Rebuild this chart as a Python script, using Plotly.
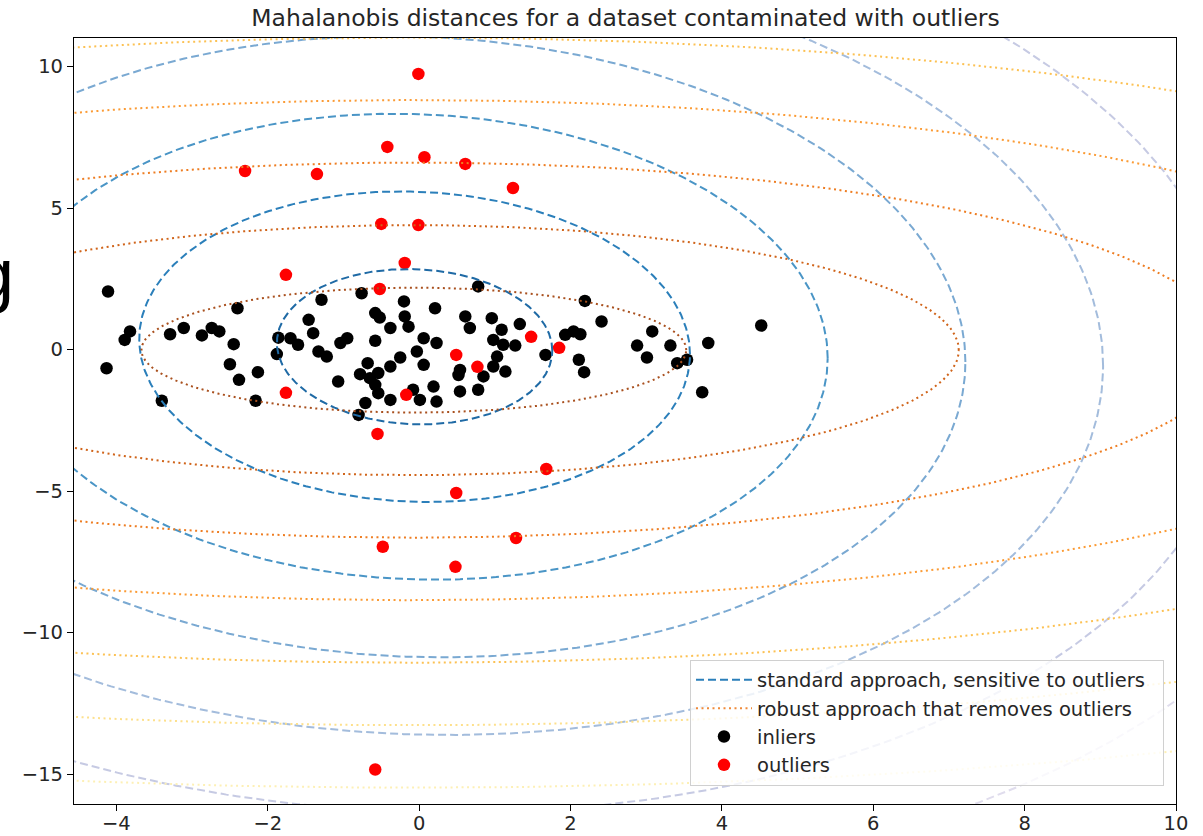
import numpy as np
import plotly.graph_objects as go

# ---- data ---------------------------------------------------------------
inlier_x = [-4.11, -3.82, -3.89, -4.13, -3.40, -3.29, -3.11, -2.87, -2.74, -2.64,
            -2.40, -2.45, -2.50, -2.38, -2.13, -2.16,
            -1.29, -1.46, -1.40, -1.86, -1.88, -1.70, -1.60, -1.33, -1.22, -1.04,
            -0.95, -1.07, -0.76, -0.58, -0.52, -0.58, -0.38, -0.20, -0.19, -0.14,
            0.06, -0.68, -0.78, -0.54, -0.38, -0.25, -0.58, -0.54, -0.38, -0.71,
            -0.80, -0.03, 0.06, -0.08, 0.01, -0.65,
            0.78, 2.19, 0.21, 0.61, 0.67, 0.96, 1.09, 1.33, 0.23, 0.98,
            1.11, 1.27, 1.03, 0.98, 1.14, 0.54, 0.52, 0.85, 0.19, 0.23,
            0.54, 0.78, 1.67, 1.93, 2.04, 2.13, 2.11, 2.18,
            2.41, 3.08, 2.88, 3.01, 3.32, 3.41, 3.54, 3.82, 3.74, 4.52]
inlier_y = [2.05, 0.64, 0.34, -0.66, -1.81, 0.54, 0.76, 0.50, 0.76, 0.64,
            1.46, 0.19, -0.52, -1.07, -0.80, -1.81,
            1.76, 1.05, 0.58, 0.42, -0.16, 0.40, 0.17, -0.07, -0.25, 0.23,
            0.40, -1.13, 1.99, 1.29, 1.13, 0.31, 0.76, 1.70, 1.17, 0.81,
            0.40, -0.48, -0.87, -0.83, -0.60, -0.28, -1.25, -1.54, -1.78, -1.89,
            -2.31, -0.07, -0.54, -1.42, -1.78, -1.01,
            2.23, 1.72, 1.46, 1.17, 0.76, 1.11, 0.70, 0.90, 0.23, 0.34,
            0.17, 0.14, -0.25, -0.60, -0.78, -0.72, -0.90, -0.95, -1.31, -1.84,
            -1.48, -1.42, -0.19, 0.52, 0.64, 0.54, -0.36, -0.80,
            0.99, 0.64, 0.14, -0.28, 0.14, -0.48, -0.36, 0.23, -1.51, 0.85]

outlier_x = [-0.01, -0.42, 0.07, 0.61, 1.24, -2.30, -1.35, -0.50, -0.01, -0.19,
             -1.76, -0.52, 0.49, 0.77, 1.48, 1.85, -1.76, -0.17, -0.55, 1.68,
             0.49, -0.48, 1.28, 0.48, -0.58]
outlier_y = [9.74, 7.16, 6.80, 6.56, 5.71, 6.31, 6.20, 4.44, 4.40, 3.06,
             2.64, 2.14, -0.19, -0.61, 0.45, 0.06, -1.53, -1.60, -2.98, -4.22,
             -5.07, -6.97, -6.66, -7.68, -14.84]

# location / covariance of the two estimators
emp_loc = [-0.06, 0.10]
emp_cov = [[3.31, -0.245], [-0.245, 7.53]]
robust_loc = [-0.07, -0.02]
robust_cov = [[12.96, 0.0], [0.0, 4.88]]

# sqrt-Mahalanobis contour levels
levels = [1, 2, 3, 4, 5, 6, 7]
emp_colors = ["#1f6aa5", "#2b7fba", "#4a95c6", "#7aa9d2", "#a3bcdc", "#c6cae3", "#e0dded"]
robust_colors = ["#a9501e", "#d0641a", "#ee7d22", "#fb9b35", "#fcc153", "#fde08c", "#fdf0b5"]

title = "Mahalanobis distances for a dataset contaminated with outliers"
x_ticks = [-4, -2, 0, 2, 4, 6, 8, 10]
y_ticks = [-15, -10, -5, 0, 5, 10]


def mahalanobis_ellipse(loc, cov, level, n=500):
    """Curve where the Mahalanobis distance to `loc` equals `level`."""
    t = np.linspace(0, 2 * np.pi, n)
    L = np.linalg.cholesky(np.asarray(cov))
    circle = np.vstack([np.cos(t), np.sin(t)]) * level
    pts = L @ circle + np.asarray(loc)[:, None]
    return pts[0], pts[1]


def minus(v):
    return str(v).replace("-", "\u2212")


fig = go.Figure()

fig.add_trace(go.Scatter(x=inlier_x, y=inlier_y, mode="markers", name="inliers",
                         marker=dict(color="black", size=12.5), legendrank=3))
fig.add_trace(go.Scatter(x=outlier_x, y=outlier_y, mode="markers", name="outliers",
                         marker=dict(color="#ff0000", size=12.5), legendrank=4))

for lev, col in zip(levels, emp_colors):
    ex, ey = mahalanobis_ellipse(emp_loc, emp_cov, lev)
    fig.add_trace(go.Scatter(x=ex, y=ey, mode="lines", showlegend=False, hoverinfo="skip",
                             line=dict(color=col, width=2, dash="8px,4px")))
for lev, col in zip(levels, robust_colors):
    rx, ry = mahalanobis_ellipse(robust_loc, robust_cov, lev)
    fig.add_trace(go.Scatter(x=rx, y=ry, mode="lines", showlegend=False, hoverinfo="skip",
                             line=dict(color=col, width=2, dash="2px,3.5px")))

# legend handles for the two contour families (trailing no-break spaces pad the box)
fig.add_trace(go.Scatter(x=[None], y=[None], mode="lines",
                         name="standard approach, sensitive to outliers\u00a0\u00a0",
                         line=dict(color="#2b7fba", width=2, dash="8px,4px"), legendrank=1))
fig.add_trace(go.Scatter(x=[None], y=[None], mode="lines",
                         name="robust approach that removes outliers",
                         line=dict(color="#f08a3a", width=2, dash="2px,3.5px"), legendrank=2))

font_family = "DejaVu Sans"
fig.update_layout(
    width=1203, height=836,
    margin=dict(l=74, r=27, t=38, b=32, autoexpand=False),
    paper_bgcolor="white", plot_bgcolor="white",
    font=dict(family=font_family, size=19.5, color="#262626"),
    title=dict(text=title, x=0.52, xanchor="center", y=1 - 18 / 836, yanchor="middle",
               yref="container", font=dict(size=23.5, color="#262626")),
    legend=dict(x=(1164 - 74) / 1102, y=0.024, xanchor="right", yanchor="bottom",
                bgcolor="rgba(255,255,255,0.8)", bordercolor="#d0d0d0", borderwidth=1,
                font=dict(size=19.5), itemwidth=56, tracegroupgap=0),
    showlegend=True,
)
fig.update_xaxes(range=[-4.56, 10.0], tickvals=x_ticks, ticktext=[minus(v) for v in x_ticks],
                 showgrid=False, zeroline=False, showline=True, linecolor="black", linewidth=1.2,
                 mirror=True, ticks="outside", ticklen=6, tickcolor="black", tickfont=dict(size=19.5),
                 ticklabelstandoff=-5, automargin=False)
fig.update_yaxes(range=[-16.06, 11.01], tickvals=y_ticks, ticktext=[minus(v) for v in y_ticks],
                 showgrid=False, zeroline=False, showline=True, linecolor="black", linewidth=1.2,
                 mirror=True, ticks="outside", ticklen=6, tickcolor="black", tickfont=dict(size=19.5),
                 automargin=False)

# clipped letter at the left border
fig.add_annotation(text="g", xref="paper", yref="paper", x=(16 - 74) / 1102, y=(804 - 274) / 766,
                   xanchor="right", yanchor="middle", showarrow=False,
                   font=dict(family="Liberation Sans", size=72, color="black"))

fig.write_html("out.html")
